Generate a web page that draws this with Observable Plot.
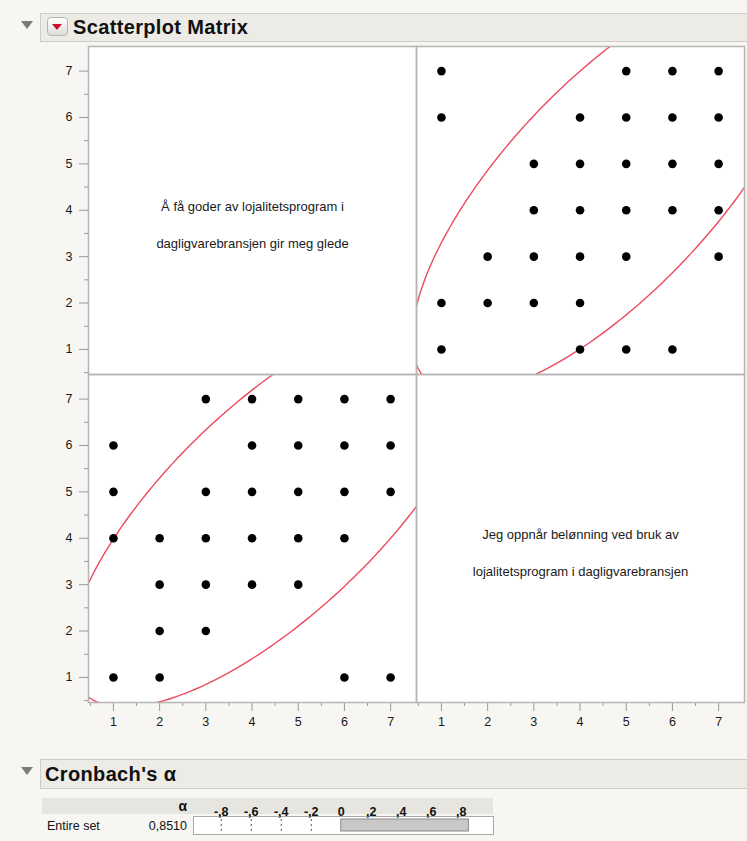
<!DOCTYPE html>
<html><head><meta charset="utf-8">
<script src="https://cdn.jsdelivr.net/npm/d3@7"></script>
<script src="https://cdn.jsdelivr.net/npm/@observablehq/plot@0.6"></script>
<style>
body{margin:0;background:#f7f6f2;font-family:"Liberation Sans",Arial,Helvetica,sans-serif;width:747px;height:841px;position:relative;overflow:hidden;color:#111}
.hbar{position:absolute;left:40px;width:710px;background:#ecebe6;border:1px solid #cdccc7;box-sizing:border-box}
.htext{position:absolute;left:5px;top:0;font-weight:bold;font-size:20px;letter-spacing:0.35px;white-space:nowrap}
.tri{position:absolute;width:0;height:0;border-left:6px solid transparent;border-right:6px solid transparent;border-top:8px solid #7b7b7b}
.btn{position:absolute;left:47px;top:17px;width:21px;height:19px;border:1px solid #b5b5b0;border-radius:4px;background:linear-gradient(#ffffff,#dcdcd8);box-sizing:border-box}
.btn div{position:absolute;left:4px;top:6px;width:0;height:0;border-left:5.5px solid transparent;border-right:5.5px solid transparent;border-top:6px solid #c8102e}
#scatter{position:absolute;left:0;top:40px}
#alphaPlot{position:absolute;left:193px;top:796px}
.thead{position:absolute;left:42px;top:798px;width:451px;height:16px;background:#e6e5df}
.cell{position:absolute;font-size:12.5px;white-space:nowrap}
</style></head><body>
<div class="tri" style="left:21px;top:21px"></div>
<div class="hbar" style="top:13px;height:29px;"><div class="htext" style="left:32px;line-height:27px">Scatterplot Matrix</div></div>
<div class="btn"><div></div></div>
<div id="scatter"></div>
<div class="tri" style="left:21px;top:767px"></div>
<div class="hbar" style="top:759px;height:30px;"><div class="htext" style="left:4px;line-height:28px">Cronbach's α</div></div>
<div class="thead"></div>
<div class="cell" id="alphaHead" style="right:560px;top:798px;line-height:16px;font-weight:bold;font-size:14px">α</div>
<div class="cell" id="rowLabel" style="left:47px;top:818px;line-height:16px"></div>
<div class="cell" id="rowValue" style="right:560px;top:818px;line-height:16px"></div>
<div id="alphaPlot"></div>
<script>
// ---- data ----
const varLines = [
  ["Å få goder av lojalitetsprogram i", "dagligvarebransjen gir meg glede"],
  ["Jeg oppnår belønning ved bruk av", "lojalitetsprogram i dagligvarebransjen"]
];
// observed (distinct) response pairs
const goder     = [3,4,5,6,7, 1,4,5,6,7, 1,3,4,5,6,7, 1,2,3,4,5,6, 2,3,4,5, 2,3, 1,2,6,7];
const belonning = [7,7,7,7,7, 6,6,6,6,6, 5,5,5,5,5,5, 4,4,4,4,4,4, 3,3,3,3, 2,2, 1,1,1,1];
// density ellipse parameters
const ellipseMeans = [4.50, 4.65];
const ellipseSDs = [1.82, 1.75];
const ellipseCorr = 0.733;
const ellipseLevel = 0.95;
const axisTicks = [1,2,3,4,5,6,7];
const minorTicks = [0.5,1.5,2.5,3.5,4.5,5.5,6.5];
// Cronbach's alpha
const alphaRowLabel = "Entire set";
const alphaValue = 0.8510;
const alphaValueText = "0,8510";
const alphaTicks = [-0.8,-0.6,-0.4,-0.2,0,0.2,0.4,0.6,0.8];
const alphaTickLabels = ["-,8","-,6","-,4","-,2","0",",2",",4",",6",",8"];
const alphaNegTicks = [-0.8,-0.6,-0.4,-0.2];

// ---- build ----
const series = [goder, belonning];
const points = [], curves = [];
const cLevel = Math.sqrt(-2 * Math.log(1 - ellipseLevel));
for (const row of [0,1]) for (const col of [0,1]) {
  if (row === col) continue;
  series[col].forEach((xv, i) => points.push({row, col, x: xv, y: series[row][i]}));
  const mx = ellipseMeans[col], my = ellipseMeans[row], sx = ellipseSDs[col], sy = ellipseSDs[row];
  const r = ellipseCorr;
  for (let k = 0; k <= 240; k++) {
    const t = 2 * Math.PI * k / 240;
    curves.push({row, col,
      x: mx + cLevel * sx * Math.cos(t),
      y: my + cLevel * sy * (r * Math.cos(t) + Math.sqrt(1 - r * r) * Math.sin(t))});
  }
}
const diag = [0,1].map(i => ({row: i, col: i, text: varLines[i].join("\n")}));

const scatter = Plot.plot({
  width: 747, height: 702,
  marginTop: 5, marginLeft: 87, marginRight: 3, marginBottom: 40,
  fx: {domain: [0,1], padding: 0, axis: null},
  fy: {domain: [0,1], padding: 0, axis: null},
  x: {domain: [0.46, 7.56], axis: null},
  y: {domain: [0.46, 7.53], axis: null},
  style: {fontFamily: "'Liberation Sans', Arial, sans-serif", fontSize: "12.5px", background: "transparent", color: "#1a1a1a", overflow: "visible"},
  marks: [
    Plot.frame({fill: "white", stroke: "none"}),
    Plot.axisX({ticks: minorTicks, tickSize: 4, tickFormat: () => "", stroke: "#999", label: null}),
    Plot.axisX({ticks: axisTicks, tickSize: 9, tickPadding: 6, tickFormat: "d", stroke: "#999", label: null}),
    Plot.axisY({ticks: minorTicks, tickSize: 4, tickFormat: () => "", stroke: "#999", label: null}),
    Plot.axisY({ticks: axisTicks, tickSize: 9, tickPadding: 7, tickFormat: "d", stroke: "#999", label: null}),
    Plot.text(diag, {fx: "col", fy: "row", text: "text", frameAnchor: "middle", dy: 7, lineHeight: 2.9, fontSize: 13, fill: "#1a1a1a"}),
    Plot.line(curves, {fx: "col", fy: "row", x: "x", y: "y", stroke: "#ec4a5e", strokeWidth: 1.4, clip: true}),
    Plot.dot(points, {fx: "col", fy: "row", x: "x", y: "y", r: 4.3, fill: "black", stroke: "none"}),
    Plot.frame({stroke: "#b5b5b5", strokeWidth: 1.5})
  ]
});
document.getElementById("scatter").append(scatter);

document.getElementById("rowLabel").textContent = alphaRowLabel;
document.getElementById("rowValue").textContent = alphaValueText;

const alphaPlot = Plot.plot({
  width: 300, height: 38,
  marginTop: 20, marginBottom: 0, marginLeft: 0, marginRight: 0,
  x: {domain: [-0.985, 1.015], axis: null},
  style: {fontFamily: "'Liberation Sans', Arial, sans-serif", fontSize: "12.5px", background: "transparent", overflow: "visible"},
  marks: [
    Plot.frame({fill: "white", stroke: "#a9a9a9"}),
    Plot.ruleX(alphaNegTicks, {x: d => d, stroke: "#555", strokeDasharray: "2,3", insetTop: 3, insetBottom: 2}),
    Plot.barX([alphaValue], {x1: 0, x2: d => d, fill: "#c8c8c8", stroke: "#8a8a8a", insetTop: 3, insetBottom: 3}),
    Plot.text(alphaTicks, {x: d => d, text: (d, i) => alphaTickLabels[i], frameAnchor: "top", dy: -9, fontWeight: "bold", fill: "#111"})
  ]
});
document.getElementById("alphaPlot").append(alphaPlot);
</script>
</body></html>
